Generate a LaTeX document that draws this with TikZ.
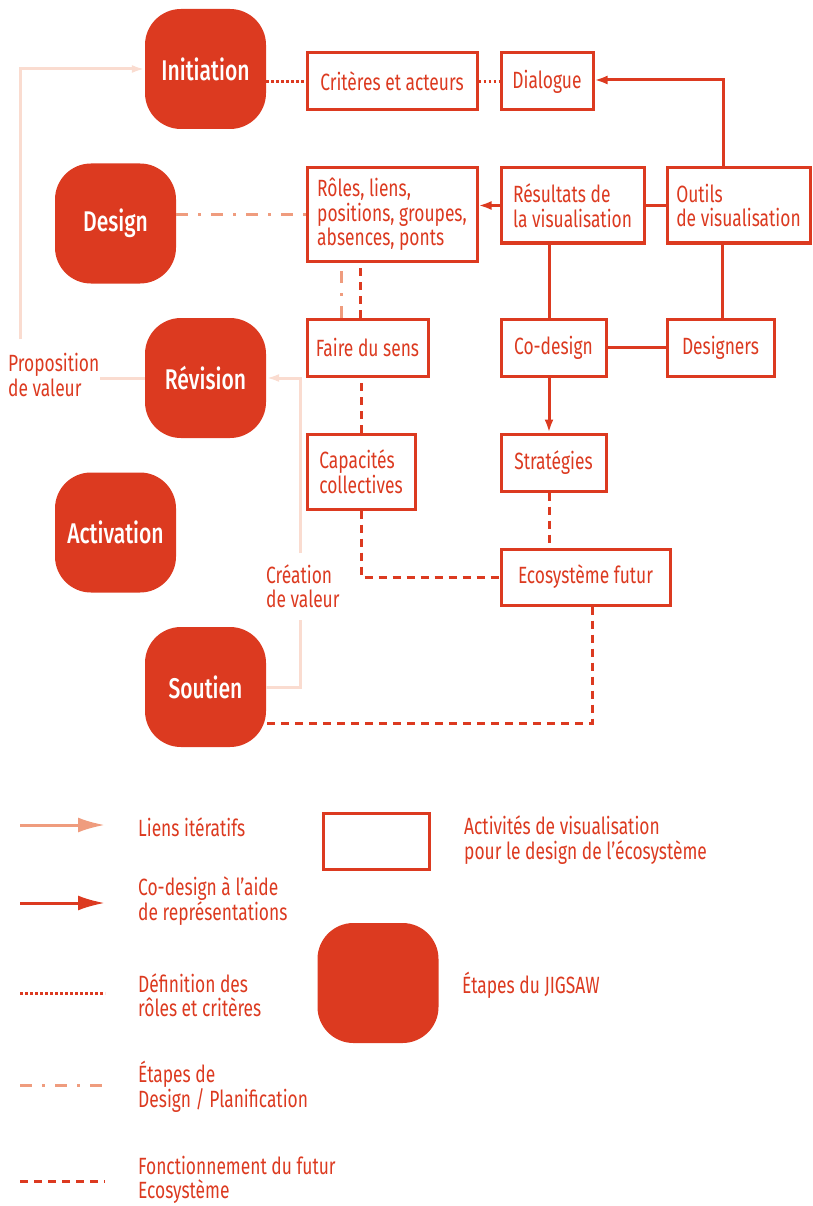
\documentclass[tikz,border=0pt]{standalone}
\usepackage{fontspec}
\setmainfont{Fira Sans}[FakeStretch=0.74]
\newfontfamily\stagefont{Fira Sans Medium}[FakeStretch=0.74]
\usepackage{tikz}
\usetikzlibrary{arrows.meta}

\definecolor{jred}{HTML}{DC3A20}
\definecolor{jpeach}{HTML}{FADCD0}
\definecolor{jsalmon}{HTML}{EF9C7E}

\begin{document}
\begin{tikzpicture}[x=1pt,y=-1pt,
stage/.style={fill=jred, rounded corners=36pt, minimum width=121pt, minimum height=120pt,
  text=white, font=\stagefont\fontsize{28.5}{30}\selectfont},
actbox/.style={draw=jred, line width=3pt, fill=white, text=jred, align=left,
  font=\fontsize{23.5}{24.5}\selectfont, inner sep=0pt},
lbl/.style={text=jred, align=left, anchor=west, inner sep=0pt, font=\fontsize{23.5}{24.5}\selectfont},
codes/.style={draw=jred, line width=3pt, -{Latex[length=13pt,width=9pt]}},
plain/.style={draw=jred, line width=3pt},
roles/.style={draw=jred, line width=3pt, dash pattern=on 2.5pt off 2.5pt},
plan/.style={draw=jsalmon, line width=3pt, dash pattern=on 12pt off 10pt on 3pt off 10pt},
futur/.style={draw=jred, line width=3pt, dash pattern=on 8pt off 6pt},
iter/.style={draw=jpeach, line width=3pt},
]
\useasboundingbox (0,0) rectangle (812,1206);

% The stages
\node[stage] (init) at (205.5,69) {Initiation};
\node[stage] (design) at (115.5,223.5) {Design};
\node[stage] (revision) at (205.5,378) {Révision};
\node[stage] (activation) at (115.5,532.5) {Activation};
\node[stage] (soutien) at (205.5,687) {Soutien};

% The activities
\node[actbox, minimum width=170pt, minimum height=57pt] (criteres) at (392,81.5) {Critères et acteurs};
\node[actbox, minimum width=92pt, minimum height=57pt] (dialogue) at (547,81.5) {Dialogue};
\node[actbox, minimum width=170pt, minimum height=93pt] (roles) at (392,214.5) {Rôles, liens,\\positions, groupes,\\absences, ponts};
\node[actbox, minimum width=143pt, minimum height=75pt] (resultats) at (572.5,205.5) {Résultats de\\la visualisation};
\node[actbox, minimum width=143pt, minimum height=75pt] (outils) at (738.5,205.5) {Outils\\de visualisation};
\node[actbox, minimum width=121pt, minimum height=57pt] (sens) at (367.5,347.5) {Faire du sens};
\node[actbox, minimum width=105pt, minimum height=57pt] (codesign) at (553.5,347.5) {Co-design};
\node[actbox, minimum width=107pt, minimum height=57pt] (designers) at (720.5,347.5) {Designers};
\node[actbox, minimum width=108pt, minimum height=75pt] (capacites) at (361,471.5) {Capacités\\collectives};
\node[actbox, minimum width=105pt, minimum height=57pt] (strategies) at (553.5,462.5) {Stratégies};
\node[actbox, minimum width=169pt, minimum height=56pt] (ecosys) at (585.5,577) {Ecosystème futur};

% The value labels
\node[lbl] (propval) at (8,375) {Proposition\\de valeur};
\node[lbl] (creaval) at (266,586) {Création\\de valeur};
\coordinate (propup) at (20,339);
\coordinate (creadown) at (300,620);
\coordinate (creaup) at (300,553);

% The links
\draw[roles] (init.east |- criteres.west) -- (criteres.west);
\draw[roles] (criteres) -- (dialogue);
\draw[codes] ([xshift=-15.5pt]outils.north) |- ([yshift=1.5pt]dialogue.east);
\draw[plain] (resultats) -- (outils);
\draw[codes] (resultats.west) -- (resultats.west -| roles.east);
\draw[plain] ([xshift=-4.5pt]codesign.north) -- ([xshift=-4.5pt]codesign.north |- resultats.south);
\draw[plain] ([xshift=1.5pt]designers.north) -- ([xshift=1.5pt]designers.north |- outils.south);
\draw[plain] (codesign) -- (designers);
\draw[codes] ([xshift=-4.5pt]codesign.south) -- ([xshift=-4.5pt]strategies.north);
\draw[futur] ([xshift=-4.5pt]strategies.south) -- ([xshift=-4.5pt]strategies.south |- ecosys.north);
\draw[plan] (design.east |- roles.west) -- (roles.west);
\draw[plan] ([xshift=-26.5pt]sens.north) -- ([xshift=-26.5pt]sens.north |- roles.south);
\draw[futur] ([xshift=-7.5pt]sens.north) -- ([xshift=-7.5pt]sens.north |- roles.south);
\draw[futur] (capacites.north) -- (capacites.north |- sens.south);
\draw[futur] (capacites.south) |- (ecosys.west);
\draw[futur] ([xshift=6.5pt]ecosys.south) |- ([yshift=-36pt]soutien.east);

% The iterations
\draw[iter] (revision.west) -- (revision.west -| propval.east);
\draw[iter, -{Latex[length=13pt,width=8pt]}] (propup) |- (init.west);
\draw[iter] (soutien.east) -| (creadown);
\draw[iter, -{Latex[length=13pt,width=8pt]}] (creaup) |- (revision.east);

% The legend
\draw[draw=jsalmon, line width=3pt, -{Latex[length=27pt,width=15pt]}] (20,825) -- (105,825);
\node[lbl] (legiter) at (138,827) {Liens itératifs};
\draw[draw=jred, line width=3pt, -{Latex[length=27pt,width=15pt]}] (20,903) -- (105,903);
\node[lbl] (legcodes) at (138,901) {Co-design à l’aide\\de représentations};
\draw[roles] (20,993) -- (105,993);
\node[lbl] (legroles) at (138,995) {Définition des\\rôles et critères};
\draw[plan] (20,1085) -- (105,1085);
\node[lbl] (legplan) at (138,1087) {Étapes de\\Design / Planification};
\draw[futur] (20,1181) -- (105,1181);
\node[lbl] (legfutur) at (138,1180) {Fonctionnement du futur\\Ecosystème};
\node[actbox, minimum width=106pt, minimum height=56pt] (legbox) at (376,841) {};
\node[lbl] (legact) at (464,840) {Activités de visualisation\\pour le design de l’écosystème};
\node[stage] (legstage) at (378,983) {};
\node[lbl] (legjig) at (462,985) {Étapes du JIGSAW};
\end{tikzpicture}
\end{document}
